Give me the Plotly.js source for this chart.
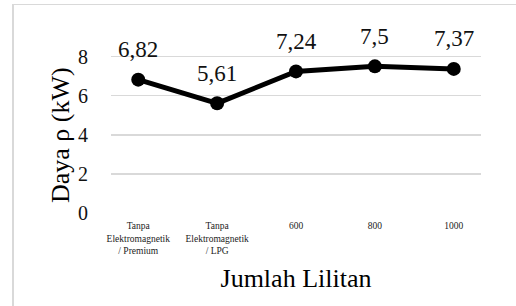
<!DOCTYPE html>
<html>
<head>
<meta charset="utf-8">
<script src="https://cdn.plot.ly/plotly-3.0.1.min.js"></script>
<style>
html,body{margin:0;padding:0;background:#fff;overflow:hidden;}
#wrap{position:relative;width:516px;height:306px;overflow:hidden;}
#chart{position:absolute;left:0;top:0;width:516px;height:306px;}
#frame{position:absolute;z-index:10;left:12px;top:4px;width:520px;height:320px;border-top:1px solid #d9d9d9;border-left:2px solid #d9d9d9;pointer-events:none;}
</style>
</head>
<body>
<div id="wrap"><div id="chart"></div><div id="frame"></div></div>
<script>
const categories = ["Tanpa<br>Elektromagnetik<br>/ Premium", "Tanpa<br>Elektromagnetik<br>/ LPG", "600", "800", "1000"];
const values = [6.82, 5.61, 7.24, 7.5, 7.37];
const yTicks = [0, 2, 4, 6, 8];
const labels = values.map(v => String(v).replace('.', ','));

const serif = "'Liberation Serif', 'Times New Roman', serif";

const trace = {
  x: categories,
  y: values,
  type: 'scatter',
  mode: 'lines+markers',
  line: {color: '#000', width: 5},
  marker: {color: '#000', size: 14},
  cliponaxis: false,
  hoverinfo: 'none'
};

const dataLabels = values.map((v, i) => ({
  x: i, y: v, xref: 'x', yref: 'y',
  text: labels[i], showarrow: false, yshift: 30,
  font: {family: serif, size: 23, color: '#111'}
}));

const layout = {
  width: 516, height: 306,
  margin: {l: 111, r: 35, t: 37, b: 93, pad: 0},
  paper_bgcolor: '#fff', plot_bgcolor: '#fff',
  showlegend: false,
  font: {family: serif, color: '#111'},
  xaxis: {
    type: 'category',
    categoryorder: 'array', categoryarray: categories,
    showgrid: false, zeroline: false, showline: false,
    ticks: 'outside', ticklen: 4, tickcolor: 'rgba(0,0,0,0)',
    tickfont: {family: serif, size: 9.5, color: '#222'},
    tickangle: 0,
    title: {text: 'Jumlah Lilitan', font: {family: serif, size: 26, color: '#000'}, standoff: 13},
    automargin: false
  },
  yaxis: {
    range: [0, 9],
    tickvals: yTicks,
    ticktext: yTicks.map(String),
    showgrid: true, gridcolor: '#d9d9d9', gridwidth: 1.5,
    zeroline: false, showline: false,
    ticks: 'outside', ticklen: 18, tickcolor: 'rgba(0,0,0,0)',
    tickfont: {family: serif, size: 20, color: '#111'},
    automargin: false
  },
  annotations: dataLabels.concat([{
    text: 'Daya ρ (kW)', textangle: -90, showarrow: false,
    xref: 'paper', yref: 'paper', x: 0, y: 0.443, xshift: -51,
    xanchor: 'center', yanchor: 'middle',
    font: {family: serif, size: 26, color: '#000'}
  }])
};

Plotly.newPlot('chart', [trace], layout, {displayModeBar: false, staticPlot: true});
</script>
</body>
</html>
